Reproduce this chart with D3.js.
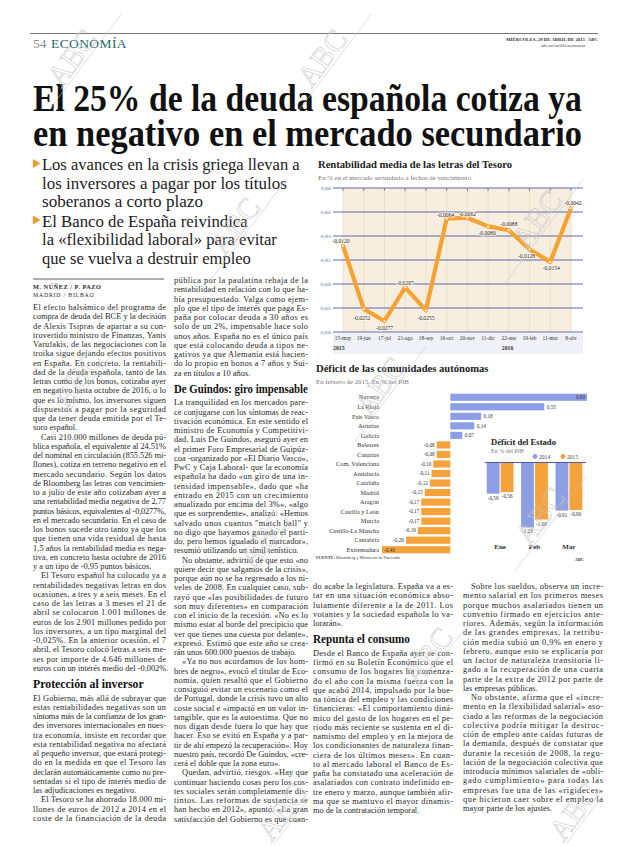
<!DOCTYPE html>
<html><head><meta charset="utf-8">
<script src="https://cdn.jsdelivr.net/npm/d3@7"></script>
<style>
html,body{margin:0;padding:0;background:#fff;}
svg{display:block;}
text{font-family:"Liberation Serif","DejaVu Serif",serif;}
</style></head><body>
<svg id="page" width="620" height="846"></svg>
<script>
// ---------- DATA ----------
const lineDates = ["15-may","19-jun","17-jul","21-ago","18-sep","16-oct","20-nov","11-dic","22-ene","19-feb","11-mar","8-abr"];
const lineValues = [-0.0120,-0.0252,-0.0277,-0.0207,-0.0255,-0.0064,-0.0062,-0.0080,-0.0088,-0.0128,-0.0154,-0.0042];
const lineYTicks = [0,-0.005,-0.010,-0.015,-0.020,-0.025,-0.030];
const lineYears = [["2015","15-may"],["2016","22-ene"]];
const regions = ["Navarra","La Rioja","País Vasco","Asturias","Galicia","Baleares","Canarias","Com. Valenciana","Andalucía","Cataluña","Madrid","Aragón","Castilla y León","Murcia","Castilla-La Mancha","Cantabria","Extremadura"];
const regionDeficit = [0.80,0.55,0.18,0.14,0.07,-0.08,-0.08,-0.10,-0.11,-0.12,-0.15,-0.17,-0.17,-0.17,-0.19,-0.26,-0.40];
const stateMonths = ["Ene","Feb","Mar"];
const stateYears = ["2014","2015"];
const state2014 = [-0.59,-1.23,-0.91];
const state2015 = [-0.56,-1.08,-0.90];

const headline = ["El 25% de la deuda española cotiza ya","en negativo en el mercado secundario"];
const deck = [
 ["Los avances en la crisis griega llevan a","los inversores a pagar por los títulos","soberanos a corto plazo"],
 ["El Banco de España reivindica","la «flexibilidad laboral» para evitar","que se vuelva a destruir empleo"]
];
const col1 = [
"El efecto balsámico del programa de","compra de deuda del BCE y la decisión","de Alexis Tsipras de apartar a su con-","trovertido ministro de Finanzas, Yanis","Varufakis, de las negociaciones con la","troika sigue dejando efectos positivos","en España. En concreto, la rentabili-","dad de la deuda española, tanto de las","letras como de los bonos, cotizaba ayer","en negativo hasta octubre de 2016, o lo","que es lo mismo, los inversores siguen","dispuestos a pagar por la seguridad","que da tener deuda emitida por el Te-","soro español.|",
"¶Casi 210.000 millones de deuda pú-","blica española, el equivalente al 24,51%","del nominal en circulación (855.526 mi-","llones), cotiza en terreno negativo en el","mercado secundario. Según los datos","de Bloomberg las letras con vencimien-","to a julio de este año cotizaban ayer a","una rentabilidad media negativa de 2,77","puntos básicos, equivalentes al -0,0277%,","en el mercado secundario. En el caso de","los bonos sucede otro tanto ya que los","que tienen una vida residual de hasta","1,5 años la rentabilidad media es nega-","tiva, en concreto hasta octubre de 2016","y a un tipo de -0,95 puntos básicos.|",
"¶El Tesoro español ha colocado ya a","rentabilidades negativas letras en dos","ocasiones, a tres y a seis meses. En el","caso de las letras a 3 meses el 21 de","abril se colocaron 1.001 millones de","euros de los 2.901 millones pedido por","los inversores, a un tipo marginal del","-0,025%. En la anterior ocasión, el 7","abril, el Tesoro colocó letras a seis me-","ses por importe de 4.646 millones de","euros con un interés medio del -0,002%.|",
"##Protección al inversor",
"El Gobierno, más allá de subrayar que","estas rentabilidades negativas son un","síntoma más de la confianza de los gran-","des inversores internacionales en nues-","tra economía, insiste en recordar que","esta rentabilidad negativa no afectará","al pequeño inversor, que estará protegi-","do en la medida en que el Tesoro las","declarán automáticamente como no pre-","sentadas si el tipo de interés medio de","las adjudicaciones es negativo.|",
"¶El Tesoro se ha ahorrado 18.000 mi-","llones de euros de 2012 a 2014 en el","coste de la financiación de la deuda"
];
const col2 = [
"pública por la paulatina rebaja de la","rentabilidad en relación con lo que ha-","bía presupuestado. Valga como ejem-","plo que el tipo de interés que paga Es-","paña por colocar deuda a 30 años es","solo de un 2%, impensable hace solo","unos años. España no es el único país","que está colocando deuda a tipos ne-","gativos ya que Alemania está hacien-","do lo propio en bonos a 7 años y Sui-","za en títulos a 10 años.|",
"##De Guindos: giro impensable",
"La tranquilidad en los mercados pare-","ce conjugarse con los síntomas de reac-","tivación económica. En este sentido el","ministro de Economía y Competitivi-","dad, Luis De Guindos, aseguró ayer en","el primer Foro Empresarial de Guipúz-","coa -organizado por «El Diario Vasco»,","PwC y Caja Laboral- que la economía","española ha dado «un giro de una in-","tensidad impensable», dado que «ha","entrado en 2015 con un crecimiento","anualizado por encima del 3%», «algo","que es sorprendente», analizó. «Hemos","salvado unos cuantos \"match ball\" y","no digo que hayamos ganado el parti-","do, pero hemos igualado el marcador»,","resumió utilizando un símil tenístico.|",
"¶No obstante, advirtió de que esto «no","quiere decir que salgamos de la crisis»,","porque aún no se ha regresado a los ni-","veles de 2008. En cualquier caso, sub-","rayó que «las posibilidades de futuro","son muy diferentes» en comparación","con el inicio de la recesión. «No es lo","mismo estar al borde del precipicio que","ver que tienes una cuesta por delante»,","expresó. Estimó que este año se crea-","rán unos 600.000 puestos de trabajo.|",
"¶«Ya no nos acordamos de los hom-","bres de negro», evocó el titular de Eco-","nomía, quien resaltó que el Gobierno","consiguió evitar un escenario como el","de Portugal, donde la crisis tuvo un alto","coste social e «impactó en un valor in-","tangible, que es la autoestima. Que no","nos digan desde fuera lo que hay que","hacer. Eso se evitó en España y a par-","tir de ahí empezó la recuperación». Hoy","nuestro país, recordó De Guindos, «cre-","cerá el doble que la zona euro».|",
"¶Quedan, advirtió, riesgos. «Hay que","continuar haciendo cosas pero los cos-","tes sociales serán completamente dis-","tintos. Las reformas de sustancia se","han hecho en 2012», apuntó. «La gran","satisfacción del Gobierno es que cuan-"
];
const col3 = [
"do acabe la legislatura. España va a es-","tar en una situación económica abso-","lutamente diferente a la de 2011. Los","votantes y la sociedad española lo va-","lorarán».|",
"##Repunta el consumo",
"Desde el Banco de España ayer se con-","firmó en su Boletín Económico que el","consumo de los hogares ha comenza-","do el año con la misma fuerza con la","que acabó 2014, impulsado por la bue-","na tónica del empleo y las condiciones","financieras: «El comportamiento diná-","mico del gasto de los hogares en el pe-","riodo más reciente se sustenta en el di-","namismo del empleo y en la mejora de","los condicionantes de naturaleza finan-","ciera de los últimos meses». En cuan-","to al mercado laboral el Banco de Es-","paña ha constatado una aceleración de","asalariados con contrato indefinido en-","tre enero y marzo, aunque también afir-","ma que se mantuvo el mayor dinamis-","mo de la contratación temporal.|"
];
const col4 = [
"¶Sobre los sueldos, observa un incre-","mento salarial en los primeros meses","porque muchos asalariados tienen un","convenio firmado en ejercicios ante-","riores. Además, según la información","de las grandes empresas, la retribu-","ción media subió un 0,9% en enero y","febrero, aunque esto se explicaría por","un factor de naturaleza transitoria li-","gado a la recuperación de una cuarta","parte de la extra de 2012 por parte de","las empresas públicas.|",
"¶No obstante, afirma que el «incre-","mento en la flexibilidad salarial» aso-","ciado a las reformas de la negociación","colectiva podría mitigar la destruc-","ción de empleo ante caídas futuras de","la demanda, después de constatar que","durante la recesión de 2008, la regu-","lación de la negociación colectiva que","introducía mínimos salariales de «obli-","gado cumplimiento» para todas las","empresas fue una de las «rigideces»","que hicieron caer sobre el empleo la","mayor parte de los ajustes.|"
];

// ---------- SETUP ----------
const es = d3.formatLocale({decimal:",",thousands:".",grouping:[3],currency:["","€"],minus:"-"});
const f4 = es.format(".4f"), f3 = es.format(".3f"), f2 = es.format(".2f");
const svg = d3.select("#page");
const BLUE = "#8d9fe4", ORANGE = "#f6a23a", GRID = "#4b5aa5", INK = "#1f1f1f";

function fitX(sel, x, y, w){
  const nat = sel.node().getComputedTextLength();
  sel.attr("x",0).attr("y",0).attr("transform",`translate(${x},${y}) scale(${w/nat},1)`);
}

// ---------- HEADER ----------
svg.append("line").attr("x1",30).attr("x2",598).attr("y1",33.5).attr("y2",33.5).attr("stroke","#555").attr("stroke-width",0.8);
svg.append("text").attr("x",33).attr("y",48).attr("font-size",13.5).attr("fill","#8c8c8c").text("54");
svg.append("text").attr("x",51).attr("y",48).attr("font-size",13.5).attr("fill","#2a6a68").attr("letter-spacing",0.4).text("ECONOMÍA");
svg.append("text").attr("x",585).attr("y",40.5).attr("font-size",4.8).attr("font-weight","bold").attr("text-anchor","end").attr("fill","#333").text("MIÉRCOLES, 29 DE ABRIL DE 2015");
svg.append("text").attr("x",598).attr("y",40.5).attr("font-size",4.8).attr("font-weight","bold").attr("text-anchor","end").attr("fill","#333").text("ABC");
svg.append("text").attr("x",585).attr("y",46.5).attr("font-size",4.6).attr("font-style","italic").attr("text-anchor","end").attr("fill","#333").text("abc.es/sevilla/economia");

// headline: one text element, two lines (tspans)
{
  const ht = svg.append("text").attr("font-size",37.5).attr("font-weight","bold").attr("fill","#111");
  const t1 = ht.append("tspan").attr("x",0).attr("y",0).text(headline[0]);
  const n1 = t1.node().getComputedTextLength();
  ht.append("tspan").attr("x",0).attr("y",35.5).attr("textLength",n1).attr("lengthAdjust","spacingAndGlyphs").text(headline[1]);
  ht.attr("transform",`translate(33,111) scale(${549/n1},1)`);
}

// deck
const deckW = [[258,245,161],[206,235,209]];
let dy = 170;
deck.forEach((b,bi)=>{
  svg.append("path").attr("d",`M33,${dy-11}L40.5,${dy-6.5}L33,${dy-2}Z`).attr("fill","#ef9a2a");
  b.forEach((t,li)=>{
    const el = svg.append("text").attr("font-size",17.5).attr("fill","#1c1c1c").text(t);
    fitX(el, 42, dy, deckW[bi][li]);
    dy += 18.5;
  });
  dy += 1;
});
svg.append("line").attr("x1",33).attr("x2",164).attr("y1",279).attr("y2",279).attr("stroke","#333").attr("stroke-width",0.8);
svg.append("text").attr("x",33).attr("y",289).attr("font-size",6.3).attr("font-weight","bold").attr("letter-spacing",0.5).attr("fill",INK).text("M. NÚÑEZ / P. PAZO");
svg.append("text").attr("x",33).attr("y",297).attr("font-size",5.8).attr("letter-spacing",0.8).attr("fill",INK).text("MADRID / BILBAO");

// ---------- BODY TEXT ----------
const headW = {"Protección al inversor":111,"De Guindos: giro impensable":134,"Repunta el consumo":97};
function column(lines, x, w, y0, lh){
  let y = y0;
  lines.forEach(raw=>{
    if(raw.startsWith("##")){
      const t = raw.slice(2);
      const hy = y + 8;
      const el = svg.append("text").attr("font-size",12.5).attr("font-weight","bold").attr("fill","#111").text(t);
      fitX(el, x, hy, headW[t]);
      y = hy + 12.5;
      return;
    }
    let t = raw, ind = 0, just = true;
    if(t.startsWith("¶")){ t = t.slice(1); ind = 8; }
    if(t.endsWith("|")){ t = t.slice(0,-1); just = false; }
    const el = svg.append("text").attr("x",x+ind).attr("y",y).attr("font-size",8.4).attr("fill",INK).text(t);
    if(just) el.attr("textLength",w-ind).attr("lengthAdjust","spacing");
    y += lh;
  });
}
column(col1, 33, 133, 310, 9.25);
column(col2, 174, 134, 283, 9.25);
column(col3, 313, 140, 589, 9.25);
column(col4, 463, 140, 589, 9.25);

// ---------- LINE CHART ----------
svg.append("text").attr("x",318).attr("y",168).attr("font-size",10.6).attr("font-weight","bold").attr("fill","#222").text("Rentabilidad media de las letras del Tesoro");
svg.append("text").attr("x",318).attr("y",180).attr("font-size",6.8).attr("fill","#777").text("En % en el mercado secundario a fechas de vencimiento");
const xL = d3.scalePoint().domain(lineDates).range([343,571]);
const yL = d3.scaleLinear().domain([-0.030,0]).range([332,188]);
const gL = svg.append("g");
gL.append("rect").attr("x",333).attr("y",333).attr("width",250).attr("height",21).attr("fill","#eff1f7");
gL.append("rect").attr("x",xL(lineDates[0])).attr("y",yL(0)).attr("width",xL(lineDates[lineDates.length-1])-xL(lineDates[0])).attr("height",yL(-0.030)-yL(0)).attr("fill","#f8eedf");
gL.selectAll("line.v").data(lineDates).join("line").attr("class","v")
  .attr("x1",d=>xL(d)).attr("x2",d=>xL(d)).attr("y1",yL(0)).attr("y2",yL(-0.030)).attr("stroke","#e6d8c2").attr("stroke-width",0.7);
gL.selectAll("line.h").data(lineYTicks).join("line").attr("class","h")
  .attr("x1",333).attr("x2",583).attr("y1",d=>yL(d)).attr("y2",d=>yL(d)).attr("stroke",GRID).attr("stroke-width",0.9);
gL.selectAll("line.t").data(lineDates).join("line").attr("class","t")
  .attr("x1",d=>xL(d)).attr("x2",d=>xL(d)).attr("y1",yL(0)).attr("y2",yL(0)+3).attr("stroke",GRID).attr("stroke-width",0.7);
gL.selectAll("text.yl").data(lineYTicks).join("text").attr("class","yl")
  .attr("x",331).attr("y",d=>yL(d)+1.5).attr("text-anchor","end").attr("font-size",4.4).attr("fill",GRID).text(d=>f3(d));
gL.selectAll("text.xl").data(lineDates).join("text").attr("class","xl")
  .attr("x",d=>xL(d)).attr("y",340).attr("text-anchor","middle").attr("font-size",5.4).attr("fill","#333").text(d=>d);
lineYears.forEach(([yr,d],i)=>{
  gL.append("text").attr("x",i===0?333:xL(d)-7).attr("y",349.5).attr("font-size",5.8).attr("font-weight","bold").attr("fill","#333").text(yr);
});
const pts = lineDates.map((d,i)=>[xL(d), yL(lineValues[i])]);
gL.append("path").attr("d",d3.line()(pts)).attr("fill","none").attr("stroke","#f5a233").attr("stroke-width",4.2).attr("stroke-linejoin","round").attr("stroke-linecap","round");
gL.selectAll("circle").data(pts).join("circle").attr("cx",d=>d[0]).attr("cy",d=>d[1]).attr("r",1.2).attr("fill","#fde3bd");
const lblOff = [[-2,-2.5],[-2,11],[0,9],[0,-2.5],[0,10],[-1,-1.5],[0,-1.5],[-1,9],[0,-4],[-3,9],[1,8.5],[2,-3]];
gL.selectAll("text.pl").data(lineValues).join("text").attr("class","pl")
  .attr("x",(d,i)=>pts[i][0]+lblOff[i][0]).attr("y",(d,i)=>pts[i][1]+lblOff[i][1])
  .attr("text-anchor","middle").attr("font-size",5.6).attr("fill","#222")
  .attr("stroke","#fff8ee").attr("stroke-width",1.4).attr("paint-order","stroke").text(d=>f4(d));

// ---------- REGIONS BAR CHART ----------
svg.append("text").attr("x",316).attr("y",372).attr("font-size",10.6).attr("font-weight","bold").attr("fill","#222").text("Déficit de las comunidades autónomas");
svg.append("text").attr("x",316).attr("y",384).attr("font-size",6.8).attr("fill","#777").text("En febrero de 2015. En % del PIB");
const yR = d3.scaleBand().domain(regions).range([392.5,554.5]).paddingInner(0.25).paddingOuter(0.125);
const xR = d3.scaleLinear().domain([-0.40,0.80]).range([382,587]);
const gR = svg.append("g");
const rdat = regions.map((r,i)=>({r, v:regionDeficit[i]}));
gR.selectAll("rect").data(rdat).join("rect")
  .attr("x",d=>xR(Math.min(0,d.v))).attr("width",d=>Math.abs(xR(d.v)-xR(0)))
  .attr("y",d=>yR(d.r)).attr("height",yR.bandwidth()).attr("fill",d=>d.v>=0?BLUE:ORANGE);
gR.selectAll("text.rl").data(rdat).join("text").attr("class","rl")
  .attr("x",379).attr("y",d=>yR(d.r)+yR.bandwidth()/2+2.2).attr("text-anchor","end").attr("font-size",6.3).attr("fill","#333").text(d=>d.r);
gR.selectAll("text.vl").data(rdat).join("text").attr("class","vl")
  .attr("x",d=>{
    if(d.v===d3.max(regionDeficit)) return xR(d.v)-2;
    if(d.v===d3.min(regionDeficit)) return xR(d.v)+2;
    return d.v>=0 ? xR(d.v)+2.5 : xR(d.v)-2;
  })
  .attr("text-anchor",d=>{
    if(d.v===d3.max(regionDeficit)) return "end";
    if(d.v===d3.min(regionDeficit)) return "start";
    return d.v>=0?"start":"end";
  })
  .attr("y",d=>yR(d.r)+yR.bandwidth()/2+1.8).attr("font-size",5.2).attr("fill","#333").text(d=>f2(d.v));
svg.append("text").attr("x",316).attr("y",559).attr("font-size",4.3).attr("fill","#444")
  .html('<tspan font-weight="bold">FUENTE:</tspan> Bloomberg y Ministerio de Hacienda');

// ---------- STATE DEFICIT INSET ----------
svg.append("text").attr("x",491).attr("y",444.5).attr("font-size",8.6).attr("font-weight","bold").attr("fill","#222").text("Déficit del Estado");
svg.append("text").attr("x",491).attr("y",453).attr("font-size",6).attr("fill","#777").text("En % del PIB");
const legC = [[BLUE,535],[ORANGE,563]];
stateYears.forEach((yr,i)=>{
  svg.append("circle").attr("cx",legC[i][1]).attr("cy",456.5).attr("r",2.4).attr("fill",legC[i][0]);
  svg.append("text").attr("x",legC[i][1]+4).attr("y",458.5).attr("font-size",5.6).attr("fill","#444").text(yr);
});
const xM = d3.scaleBand().domain(stateMonths).range([486,583]).paddingInner(0.22).paddingOuter(0.02);
const xY = d3.scaleBand().domain(stateYears).range([0,xM.bandwidth()]).paddingInner(0.08);
const yS = d3.scaleLinear().domain([-1.3,0]).range([462.5+1.3*52.8,462.5]);
const sdat = [];
stateMonths.forEach((m,i)=>{ sdat.push({m,yr:"2014",v:state2014[i]}); sdat.push({m,yr:"2015",v:state2015[i]}); });
const gS = svg.append("g");
gS.selectAll("rect").data(sdat).join("rect")
  .attr("x",d=>xM(d.m)+xY(d.yr)).attr("width",xY.bandwidth())
  .attr("y",yS(0)).attr("height",d=>yS(d.v)-yS(0)).attr("fill",d=>d.yr==="2014"?BLUE:ORANGE);
gS.append("line").attr("x1",485).attr("x2",586).attr("y1",yS(0)).attr("y2",yS(0)).attr("stroke",GRID).attr("stroke-width",1.2);
gS.selectAll("text.sv").data(sdat).join("text").attr("class","sv")
  .attr("x",d=>xM(d.m)+xY(d.yr)+xY.bandwidth()/2).attr("y",d=>yS(d.v)+6).attr("text-anchor","middle")
  .attr("font-size",5.2).attr("fill","#333").text(d=>f2(d.v));
gS.selectAll("text.ml").data(stateMonths).join("text").attr("class","ml")
  .attr("x",d=>xM(d)+xM.bandwidth()/2).attr("y",549).attr("text-anchor","middle").attr("font-size",7).attr("font-weight","bold").attr("fill","#333").text(d=>d);
svg.append("text").attr("x",584).attr("y",560.5).attr("text-anchor","end").attr("font-size",4.4).attr("font-weight","bold").attr("fill","#333").text("ABC");

// ---------- WATERMARKS ----------
function wm(cx,cy,len1,len2){
  const g = svg.append("g").attr("transform",`translate(${cx},${cy}) rotate(-53)`).attr("opacity",0.85);
  g.append("text").attr("text-anchor","middle").attr("y",0).attr("font-size",30).attr("fill","none")
    .attr("stroke","#c6c6c6").attr("stroke-width",0.6).text("ABC");
  g.append("line").attr("x1",-len1).attr("x2",len2).attr("y1",3).attr("y2",3).attr("stroke","#c6c6c6").attr("stroke-width",0.6);
}
[[80,64,55,65],[330,64,55,65],[243,232,60,70],[545,225,70,60],[388,392,60,60],[548,522,60,60],[85,385,60,60],[272,545,50,50],[436,662,50,50],[290,818,30,30],[582,818,30,30]].forEach(a=>wm(...a));
</script>
</body></html>
